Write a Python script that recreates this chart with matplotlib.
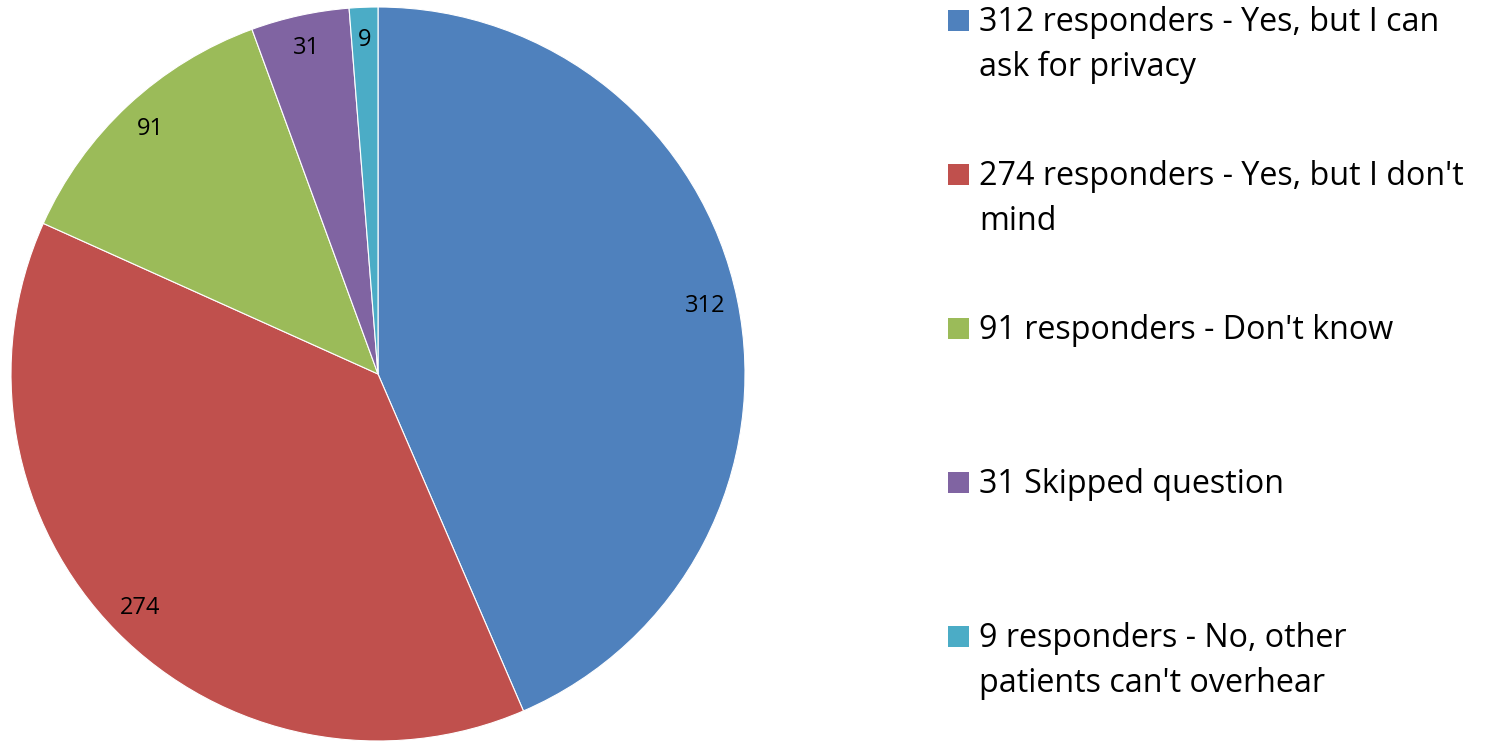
import matplotlib.pyplot as plt
from matplotlib.patches import Rectangle

COUNTS = [312, 274, 91, 31, 9]
LEGEND_LABELS = [
    "312 responders - Yes, but I can\nask for privacy",
    "274 responders - Yes, but I don't\nmind",
    "91 responders - Don't know",
    "31 Skipped question",
    "9 responders - No, other\npatients can't overhear",
]
COLORS = ["#4F81BD", "#C0504D", "#9BBB59", "#8064A2", "#4BACC6"]

plt.rcParams["font.family"] = ["Open Sans", "DejaVu Sans"]

W, H = 1487, 741
fig = plt.figure(figsize=(W / 100, H / 100), dpi=100)

# pie axes: centre (378, 374) px, radius 367 px
cx, cy, r = 378, 374, 367
ax = fig.add_axes([(cx - r) / W, (H - cy - r) / H, 2 * r / W, 2 * r / H])
total = sum(COUNTS)
wedges, texts, autotexts = ax.pie(
    COUNTS,
    colors=COLORS,
    startangle=90,
    counterclock=False,
    autopct=lambda p: f"{round(p * total / 100)}",
    pctdistance=0.91,
    wedgeprops=dict(edgecolor="white", linewidth=0.8),
    textprops=dict(fontsize=17, color="black"),
)
ax.set_xlim(-1, 1)
ax.set_ylim(-1, 1)
ax.set_aspect("equal")
ax.axis("off")

# legend, drawn by hand to match the spacing
first_base = 31
entry_gap = 154
line_gap = 45
for i, (lab, col) in enumerate(zip(LEGEND_LABELS, COLORS)):
    base = first_base + i * entry_gap
    fig.patches.append(Rectangle((948 / W, (H - base) / H), 21 / W, 21 / H,
                                 transform=fig.transFigure, facecolor=col,
                                 edgecolor="none"))
    for k, line in enumerate(lab.split("\n")):
        fig.text(979 / W, (H - base - k * line_gap) / H, line,
                 fontsize=23.2, va="baseline", ha="left", color="black")

fig.savefig("out.png", dpi=100)
